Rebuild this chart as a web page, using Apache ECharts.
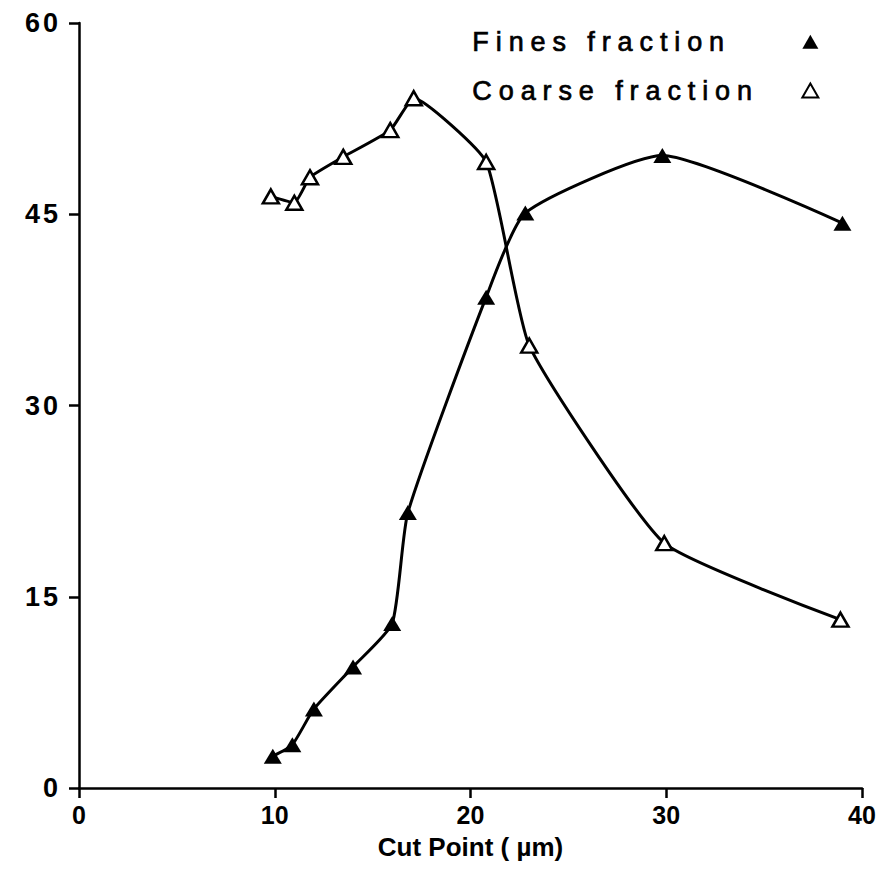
<!DOCTYPE html>
<html>
<head>
<meta charset="utf-8">
<script src="https://cdn.jsdelivr.net/npm/echarts@6/dist/echarts.min.js"></script>
<style>html,body{margin:0;padding:0;background:#fff}#c{width:885px;height:882px}</style>
</head>
<body>
<div id="c"></div>
<script>
const finesX = [9.9, 10.9, 12.0, 14.0, 16.0, 16.8, 20.8, 22.8, 29.8, 39.0];
const finesY = [2.5, 3.4, 6.2, 9.5, 12.9, 21.6, 38.5, 45.1, 49.6, 44.3];
const coarseX = [9.8, 11.0, 11.8, 13.5, 15.9, 17.1, 20.8, 23.0, 29.9, 38.9];
const coarseY = [46.4, 45.9, 47.9, 49.5, 51.6, 54.1, 49.1, 34.7, 19.2, 13.2];
const xTicks = [0, 10, 20, 30, 40];
const yTicks = [0, 15, 30, 45, 60];
const seriesNames = ['Fines fraction', 'Coarse fraction'];
const xName = 'Cut Point ( µm)';

const pair = (xs, ys) => xs.map((x, i) => [x, ys[i]]);
const font = 'Liberation Sans, Arial, sans-serif';

const chart = echarts.init(document.getElementById('c'), null, {renderer: 'svg'});
chart.setOption({
  animation: false,
  backgroundColor: '#fff',
  grid: {left: 79, right: 23, top: 23, bottom: 94, containLabel: false, outerBoundsMode: 'none'},
  legend: {
    orient: 'vertical',
    left: 467,
    top: 23,
    align: 'right',
    itemWidth: 16,
    itemHeight: 14,
    itemGap: 21,
    formatter: '{t|{name}}',
    textStyle: {
      rich: {t: {width: 325, align: 'left', fontSize: 27, lineHeight: 32, fontFamily: font, color: '#000',
        textBorderColor: '#000', textBorderWidth: 0.7}}
    },
    data: [
      {name: seriesNames[0], icon: 'triangle', itemStyle: {color: '#000', borderWidth: 0}},
      {name: seriesNames[1], icon: 'triangle', itemStyle: {color: '#fff', borderColor: '#000', borderWidth: 2}}
    ]
  },
  xAxis: {
    type: 'value', min: 0, max: 40, interval: 10,
    name: xName, nameLocation: 'middle', nameGap: 46,
    nameTextStyle: {fontSize: 26, fontWeight: 'bold', fontFamily: font, color: '#000'},
    axisLine: {lineStyle: {color: '#000', width: 2.5}},
    axisTick: {show: true, length: 10, lineStyle: {color: '#000', width: 2.5}},
    axisLabel: {fontSize: 25, fontWeight: 'bold', fontFamily: font, color: '#000', margin: 14,
      customValues: xTicks},
    splitLine: {show: false}
  },
  yAxis: {
    type: 'value', min: 0, max: 60, interval: 15,
    axisLine: {show: true, lineStyle: {color: '#000', width: 2.5}},
    axisTick: {show: true, length: 10, lineStyle: {color: '#000', width: 2.5}},
    axisLabel: {fontSize: 27, fontWeight: 'bold', fontFamily: font, color: '#000', margin: 18,
      customValues: yTicks},
    splitLine: {show: false}
  },
  series: [
    {
      name: seriesNames[0], type: 'line', data: pair(finesX, finesY),
      smooth: 0.18, symbol: 'triangle', symbolSize: [18, 15],
      lineStyle: {color: '#000', width: 3},
      itemStyle: {color: '#000'}
    },
    {
      name: seriesNames[1], type: 'line', data: pair(coarseX, coarseY),
      smooth: 0.15, symbol: 'triangle', symbolSize: [16, 14],
      lineStyle: {color: '#000', width: 3},
      itemStyle: {color: '#fff', borderColor: '#000', borderWidth: 2.5}
    }
  ]
});

function spaceText() {
  const yLabels = yTicks.map(String);
  document.querySelectorAll('#c svg text').forEach(t => {
    const s = t.textContent.trim();
    if (seriesNames.includes(s)) {
      t.style.letterSpacing = '6.9px';
    } else if (yLabels.includes(s) && t.getAttribute('text-anchor') === 'end') {
      t.style.letterSpacing = '3px';
    }
  });
}
spaceText();
chart.on('finished', spaceText);
</script>
</body>
</html>
